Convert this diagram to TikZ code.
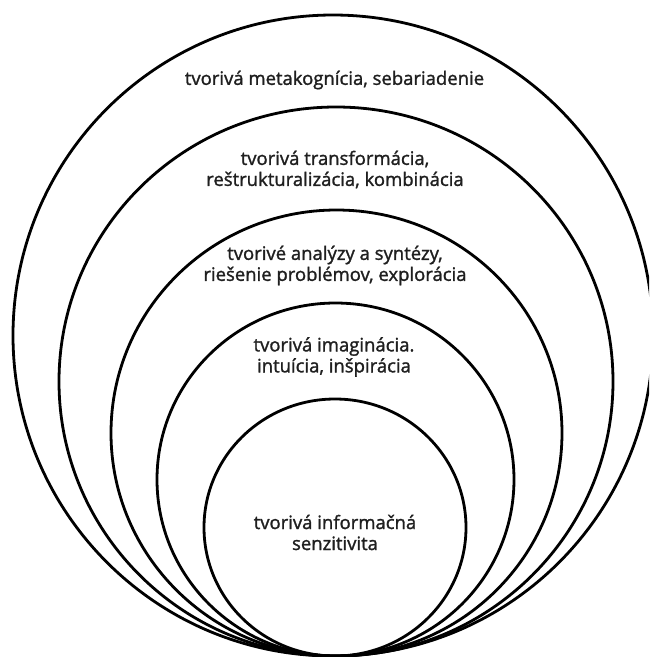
\documentclass[tikz,border=0pt]{standalone}
\usepackage{fontspec}
\setmainfont{Open Sans}
\newfontfamily\lblfont{Open Sans}[FakeBold=1.4]
\begin{document}
\begin{tikzpicture}[x=1pt,y=-1pt,
  ring/.style={draw=black, line width=2.8pt},
  lbl/.style={align=center, text=black!88, font=\lblfont\fontsize{18.5}{21}\selectfont, inner sep=0pt}]
\clip (0,0) rectangle (649,657);
\fill[white] (0,0) rectangle (649,657);
\draw[ring] (333,335.5) ellipse [x radius=320, y radius=320.5];
\draw[ring] (336,381.5) ellipse [x radius=277, y radius=274.5];
\draw[ring] (336.5,433) ellipse [x radius=225.5, y radius=223];
\draw[ring] (335.5,479.5) ellipse [x radius=178.5, y radius=176.5];
\draw[ring] (335,527.5) ellipse [x radius=131, y radius=128.5];
\node[lbl] (t1) at (334.5,80) {tvorivá metakognícia, sebariadenie};
\node[lbl] (t2) at (335,169.5) {tvorivá transformácia,\\reštrukturalizácia, kombinácia};
\node[lbl] (t3) at (335,265.5) {tvorivé analýzy a syntézy,\\riešenie problémov, explorácia};
\node[lbl] (t4) at (334,357) {tvorivá imaginácia.\\intuícia, inšpirácia};
\node[lbl] (t5) at (335,532.5) {tvorivá informačná\\senzitivita};
\end{tikzpicture}
\end{document}
